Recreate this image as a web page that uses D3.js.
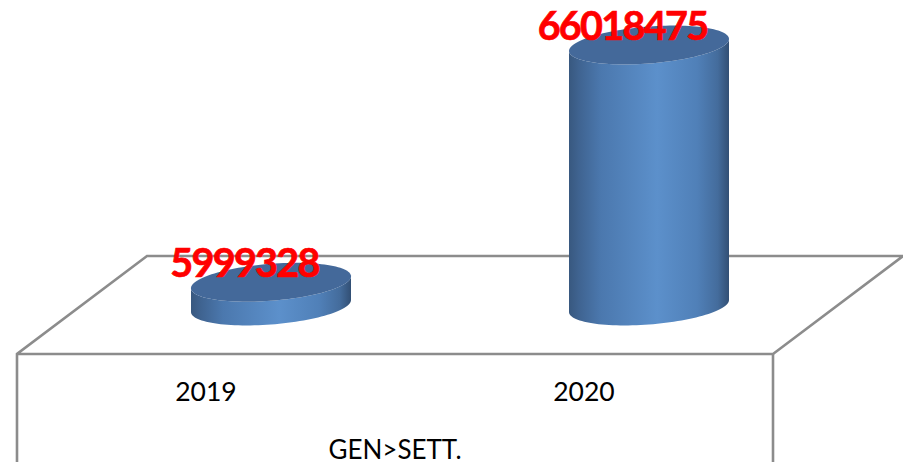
<!DOCTYPE html>
<html lang="en">
  <head>
    <meta charset="UTF-8" />
    <title>GEN>SETT.</title>
    <script src="https://d3js.org/d3.v7.min.js"></script>
    <style>
      body { margin: 0; padding: 0; background: #fff; overflow: hidden; }
      svg { display: block; }
      text { font-family: Lato, "Open Sans", sans-serif; }
      .wall { fill: none; stroke: #8c8c8c; stroke-width: 2.6; }
      .tick-label { font-size: 26.5px; fill: #000; text-anchor: middle; }
      .axis-title { font-size: 26px; fill: #000; text-anchor: middle; }
      .value-label { font-size: 39.5px; font-weight: bold; letter-spacing: -1.7px; fill: #ff0000; stroke: #ff0000; stroke-width: 0.7; text-anchor: middle; }
      .cap { fill: #44699a; }
    </style>
  </head>
  <body>
    <script>
      // Data
      const years = ["2019", "2020"];
      const values = [5999328, 66018475];
      const axisTitle = "GEN>SETT.";

      const width = 903, height = 462;

      // Front edge of the floor and how far the floor is skewed backwards
      const frontY = 354, backY = 256, skew = 130;
      const x = d3.scaleBand().domain(years).range([17, 773]);
      const y = d3.scaleLinear().domain([0, d3.max(values)]).range([306, 45]);

      const barWidth = x.bandwidth() * 160 / 378;
      const rx = barWidth / 2, ry = 18.5, tilt = -6;

      const svg = d3.select("body").append("svg")
        .attr("width", width)
        .attr("height", height);

      // Cylinder shading runs left to right
      const grad = svg.append("defs").append("linearGradient").attr("id", "body-shade");
      [[0, "#38587f"], [0.06, "#3f6390"], [0.2, "#4b78ae"], [0.55, "#5c90cb"],
       [0.8, "#5080b8"], [0.93, "#446c9c"], [1, "#324f74"]].forEach(s => {
        grad.append("stop").attr("offset", s[0]).attr("stop-color", s[1]);
      });

      // Floor outline and the two front uprights
      const [x0, x1] = x.range();
      const line = d3.line();
      svg.append("path").attr("class", "wall")
        .attr("d", line([[x0, height], [x0, frontY], [x0 + skew, backY], [x1 + skew, backY], [x1, frontY], [x0, frontY]]));
      svg.append("path").attr("class", "wall")
        .attr("d", line([[x1, frontY], [x1, height]]));

      // Tilted ellipse point at angle t around (cx, cy)
      const ell = (cx, cy, t) => [cx + rx * Math.cos(t), cy + ry * Math.sin(t) + tilt * Math.cos(t)];
      const lowerHalf = d3.range(0, 61).map(i => Math.PI * i / 60);

      const bars = svg.selectAll(".bar")
        .data(years.map((year, i) => ({ year, value: values[i] })))
        .join("g")
        .attr("class", "bar");

      bars.append("path")
        .attr("fill", "url(#body-shade)")
        .attr("d", d => {
          const cx = x(d.year) + x.bandwidth() / 2 + skew / 2;
          const base = lowerHalf.map(t => ell(cx, y(0), t));
          const top = lowerHalf.map(t => ell(cx, y(d.value), t)).reverse();
          return line(base.concat(top)) + "Z";
        });

      bars.append("path")
        .attr("class", "cap")
        .attr("d", d => {
          const cx = x(d.year) + x.bandwidth() / 2 + skew / 2;
          return line(d3.range(0, 121).map(i => ell(cx, y(d.value), Math.PI * i / 60))) + "Z";
        });

      bars.append("text")
        .attr("class", "value-label")
        .attr("x", d => x(d.year) + x.bandwidth() / 2 + skew / 2 - 26.5)
        .attr("y", d => y(d.value) - 5)
        .text(d => d.value);

      svg.selectAll(".tick-label")
        .data(years)
        .join("text")
        .attr("class", "tick-label")
        .attr("x", d => x(d) + x.bandwidth() / 2)
        .attr("y", 401)
        .text(d => d);

      svg.append("text")
        .attr("class", "axis-title")
        .attr("x", (x0 + x1) / 2)
        .attr("y", 459)
        .text(axisTitle);
    </script>
  </body>
</html>
